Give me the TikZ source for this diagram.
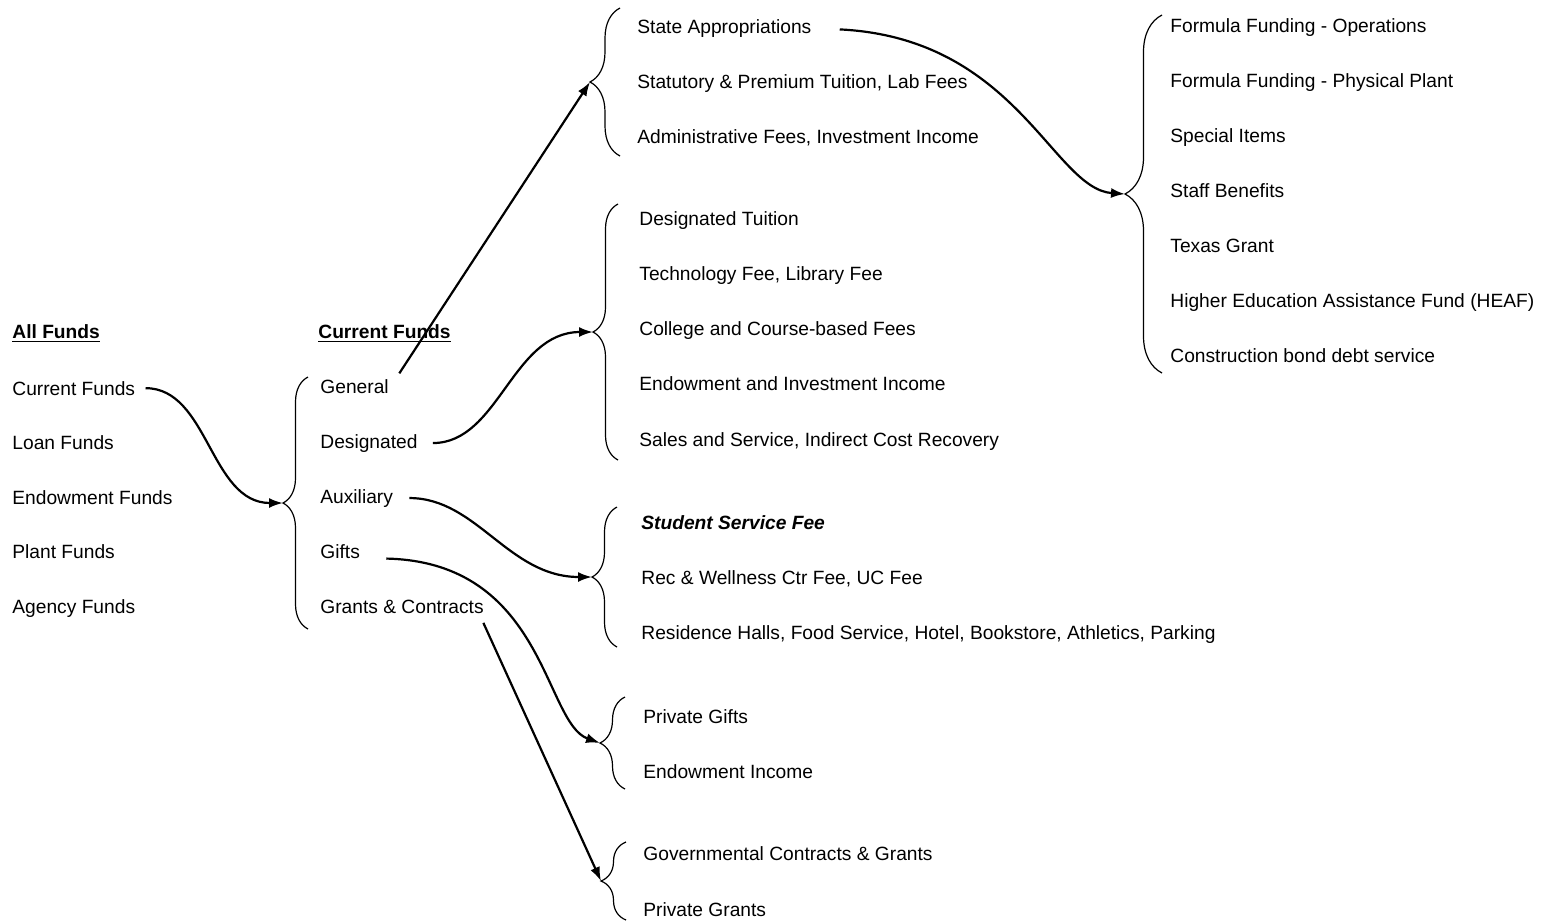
\documentclass[tikz,border=0pt]{standalone}
\usepackage{fontspec}
\setmainfont{Liberation Sans}
\usepackage{tikz}
\usetikzlibrary{arrows.meta,decorations.pathreplacing}
\tikzstyle{item}=[anchor=base west, inner xsep=0pt, inner ysep=1pt, font=\fontsize{9.6}{11}\selectfont]
\tikzstyle{flow}=[line width=1.1pt, -{Latex[length=7pt,width=5pt]}, shorten <=6pt]
\tikzstyle{bracket}=[line width=0.6pt, decorate, decoration={brace, amplitude=12.5pt}]

\begin{document}
\begin{tikzpicture}[x=0.5pt, y=-0.5pt]
			\useasboundingbox (0,0) rectangle (1548,923);
			% headings
			\node[item] (allh) at (12,338) {\underline{\textbf{All Funds}}};
			\node[item] (curh) at (318,338) {\underline{\textbf{Current Funds}}};
			% all funds
			\foreach \t [count=\i] in {Current Funds, Loan Funds, Endowment Funds, Plant Funds, Agency Funds}{
				\node[item] (all\i) at (12, 395+54.5*\i-54.5) {\t};
			}
			% current funds
			\foreach \t [count=\i] in {General, Designated, Auxiliary, Gifts, Grants \& Contracts}{
				\node[item] (cur\i) at (320, 393+55*\i-55) {\t};
			}
			% general
			\foreach \t [count=\i] in {State Appropriations, {Statutory \& Premium Tuition, Lab Fees}, {Administrative Fees, Investment Income}}{
				\node[item] (app\i) at (637, 33+55*\i-55) {\t};
			}
			% designated
			\foreach \t [count=\i] in {Designated Tuition, {Technology Fee, Library Fee}, College and Course-based Fees, Endowment and Investment Income, {Sales and Service, Indirect Cost Recovery}}{
				\node[item] (des\i) at (639, 225+55.25*\i-55.25) {\t};
			}
			% auxiliary
			\foreach \t [count=\i] in {\textbf{\textit{Student Service Fee}}, {Rec \& Wellness Ctr Fee, UC Fee}, {Residence Halls, Food Service, Hotel, Bookstore, Athletics, Parking}}{
				\node[item] (aux\i) at (641, 529+55*\i-55) {\t};
			}
			% gifts and grants
			\node[item] (gif1) at (643,723) {Private Gifts};
			\node[item] (gif2) at (643,778) {Endowment Income};
			\node[item] (gra1) at (643,860) {Governmental Contracts \& Grants};
			\node[item] (gra2) at (643,916) {Private Grants};
			% state appropriations
			\foreach \t [count=\i] in {Formula Funding - Operations, Formula Funding - Physical Plant, Special Items, Staff Benefits, Texas Grant, Higher Education Assistance Fund (HEAF), Construction bond debt service}{
				\node[item] (frm\i) at (1170, 32+55*\i-55) {\t};
			}
			% braces, drawn bottom to top
			\draw[bracket] (308,629) -- (308,377);
			\draw[bracket, decoration={brace, amplitude=15pt}] (620,156) -- (620,8);
			\draw[bracket] (618,460) -- (618,204);
			\draw[bracket] (617,647) -- (617,507);
			\draw[bracket] (625,789) -- (625,697);
			\draw[bracket] (626,920) -- (626,842);
			\draw[bracket, decoration={brace, amplitude=18.5pt}] (1162,373) -- (1162,15);
			% brace tips
			\coordinate (t0) at (283,503);
			\coordinate (t1) at (590,82);
			\coordinate (t2) at (593,332);
			\coordinate (t3) at (592,577);
			\coordinate (t4) at (600,743);
			\coordinate (t5) at (601,881);
			\coordinate (t6) at (1125,194);
			% arrows
			\draw[flow, shorten <=5pt] (all1.east) to[out=0, in=180] (t0);
			\draw[flow, shorten <=2pt] ([xshift=4pt]cur1.north east) -- (t1);
			\draw[flow, shorten <=7.5pt] (cur2.east) to[out=0, in=180] (t2);
			\draw[flow, shorten <=8pt] (cur3.east) to[out=0, in=180] (t3);
			\draw[flow, shorten <=13pt] (cur4.base east) .. controls +(185,4) and +(-56,-20) .. (t4);
			\draw[flow, shorten <=4pt] ([xshift=-2pt]cur5.south east) -- (t5);
			\draw[flow, shorten <=14pt] (app1.east) .. controls +(205,10) and +(-72,-5) .. (t6);
		\end{tikzpicture}
\end{document}
